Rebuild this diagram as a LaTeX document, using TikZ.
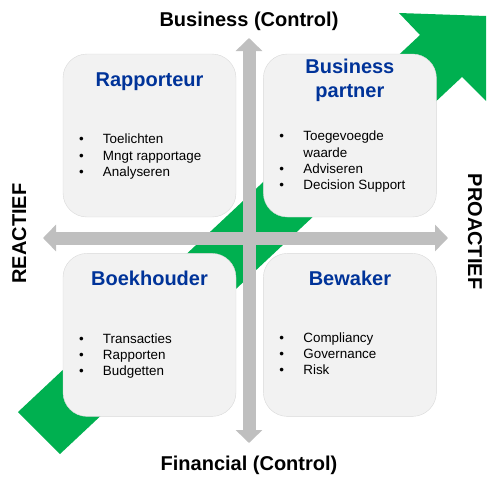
\documentclass[tikz,border=0pt]{standalone}
\usepackage{fontspec}
\setmainfont{Liberation Sans}
\usetikzlibrary{positioning, arrows.meta}
\definecolor{quadGreen}{HTML}{00B050}
\definecolor{quadBlue}{HTML}{003399}
\definecolor{axisGrey}{HTML}{BFBFBF}
\definecolor{boxGrey}{HTML}{F2F2F2}
\definecolor{boxLine}{HTML}{D9D9D9}

\begin{document}
\begin{tikzpicture}[x=1pt, y=-1pt,
    quadrant/.style={draw=boxLine, fill=boxGrey, rounded corners=24pt,
      minimum width=173pt, minimum height=163pt, inner sep=0pt},
    title/.style={font=\fontsize{20}{24}\selectfont\bfseries, text=quadBlue,
      anchor=base, inner sep=0pt},
    bullets/.style={font=\fontsize{13.4}{16.2}\selectfont, anchor=base west, inner sep=0pt},
    axis/.style={draw=axisGrey, line width=13pt,
      {Triangle[width=26pt, length=13pt]}-{Triangle[width=26pt, length=13pt]}},
    axislabel/.style={font=\fontsize{20}{24}\selectfont\bfseries, anchor=base, inner sep=0pt}]
    \useasboundingbox (0,0) rectangle (494,487);

    \fill[quadGreen] (18,412) -- (60,454) -- (462,77) -- (486,101) -- (486,16)
      -- (399,13) -- (420,35) -- cycle;

    \coordinate (top) at (249,38);
    \coordinate (bottom) at (249,443);
    \coordinate (left) at (43,238);
    \coordinate (right) at (448,238);
    \draw[axis] (top) -- (bottom);
    \draw[axis] (left) -- (right);

    \node[quadrant] (rapp) at (149.5,135.5) {};
    \node[quadrant, right=27pt of rapp] (partner) {};
    \node[quadrant, below=36pt of rapp] (boek) {};
    \node[quadrant, right=27pt of boek] (bewaker) {};

    \node[title] at ([yshift=-33pt]rapp.north) {Rapporteur};
    \node[title] at ([yshift=-20pt]partner.north)
      {\begin{tabular}[t]{@{}c@{}}Business\\partner\end{tabular}};
    \node[title] at ([yshift=-32pt]boek.north) {Boekhouder};
    \node[title] at ([yshift=-32pt]bewaker.north) {Bewaker};

    \node[bullets] at ([xshift=16pt, yshift=-90pt]rapp.north west)
      {\begin{tabular}[t]{@{}p{24pt}@{}l@{}}\textbullet & Toelichten\\
       \textbullet & Mngt rapportage\\ \textbullet & Analyseren\end{tabular}};
    \node[bullets] at ([xshift=16pt, yshift=-87pt]partner.north west)
      {\begin{tabular}[t]{@{}p{24pt}@{}l@{}}\textbullet & Toegevoegde\\ & waarde\\
       \textbullet & Adviseren\\ \textbullet & Decision Support\end{tabular}};
    \node[bullets] at ([xshift=16pt, yshift=-90pt]boek.north west)
      {\begin{tabular}[t]{@{}p{24pt}@{}l@{}}\textbullet & Transacties\\
       \textbullet & Rapporten\\ \textbullet & Budgetten\end{tabular}};
    \node[bullets] at ([xshift=16pt, yshift=-89pt]bewaker.north west)
      {\begin{tabular}[t]{@{}p{24pt}@{}l@{}}\textbullet & Compliancy\\
       \textbullet & Governance\\ \textbullet & Risk\end{tabular}};

    \node[axislabel] (business) at (249,27) {Business (Control)};
    \node[axislabel] (financial) at (249,470) {Financial (Control)};
    \node[axislabel, rotate=90] (reactief) at (26,233.5) {REACTIEF};
    \node[axislabel, rotate=-90] (proactief) at (468,231.5) {PROACTIEF};
\end{tikzpicture}
\end{document}
